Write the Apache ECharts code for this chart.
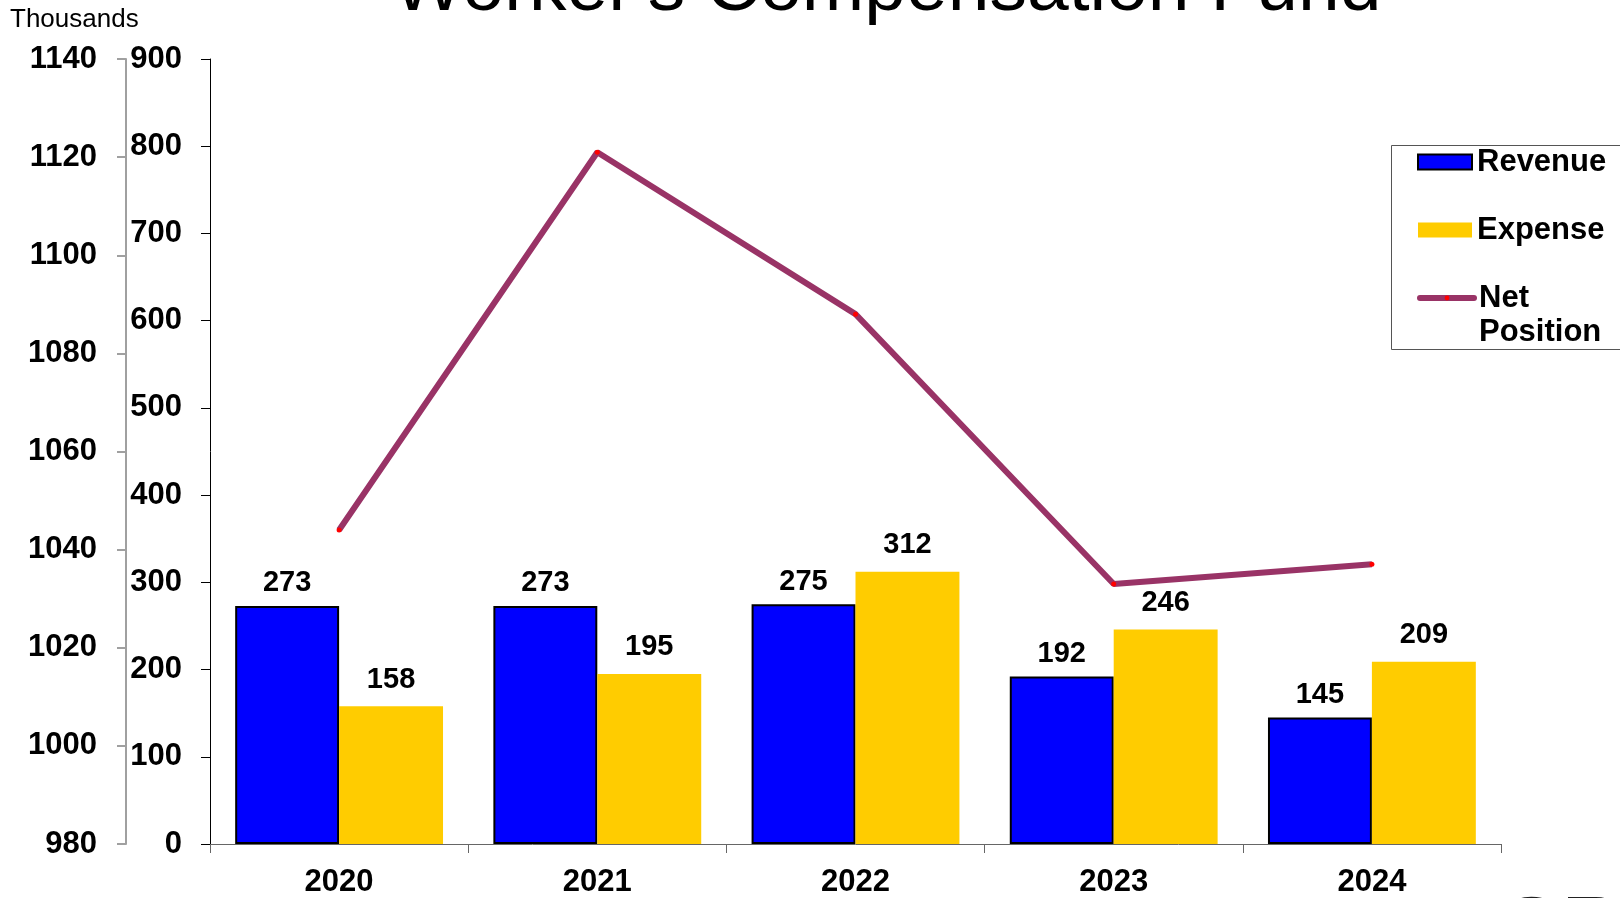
<!DOCTYPE html>
<html>
<head>
<meta charset="utf-8">
<title>Worker's Compensation Fund</title>
<script src="https://cdn.jsdelivr.net/npm/echarts@6/dist/echarts.min.js"></script>
<style>
  html, body { margin: 0; padding: 0; background: #fff; }
  #chart { width: 1620px; height: 898px; }
</style>
</head>
<body>
<div id="chart"></div>
<script>
const years = ['2020', '2021', '2022', '2023', '2024']
const revenue = [273, 273, 275, 192, 145]
const expense = [158, 195, 312, 246, 209]
// net position, in thousands, read against the outer left axis
const netPosition = [1044, 1121, 1088, 1033, 1037]

const FONT = 'Liberation Sans, Arial, sans-serif'
const plain = (v) => String(v)

const chart = echarts.init(document.getElementById('chart'), null, { renderer: 'canvas' })

chart.setOption({
  animation: false,
  backgroundColor: '#fff',
  title: [
    {
      text: "Worker's Compensation Fund",
      left: 393,
      top: -48,
      padding: 0,
      textStyle: { fontFamily: FONT, fontSize: 75, fontWeight: 'normal', color: '#000' }
    },
    {
      text: 'Thousands',
      left: 10,
      top: 7,
      padding: 0,
      textStyle: { fontFamily: FONT, fontSize: 26, fontWeight: 'normal', color: '#000' }
    }
  ],
  legend: [
    {
      orient: 'vertical',
      left: 1417,
      top: 146.5,
      padding: 0,
      icon: 'rect',
      itemWidth: 54,
      itemHeight: 15,
      itemGap: 37,
      data: ['Revenue', 'Expense'],
      textStyle: { fontFamily: FONT, fontSize: 31, fontWeight: 'bold', color: '#000' }
    },
    {
      orient: 'vertical',
      left: 1417,
      top: 247,
      padding: 0,
      itemWidth: 54,
      itemHeight: 6,
      data: ['Net Position'],
      // blank first line keeps "Net" level with the icon
      formatter: () => '\nNet\nPosition',
      lineStyle: { width: 6, cap: 'round' },
      textStyle: {
        fontFamily: FONT,
        fontSize: 31,
        fontWeight: 'bold',
        color: '#000',
        lineHeight: 34
      }
    }
  ],
  graphic: [
    {
      type: 'rect',
      z: -1,
      shape: { x: 1391.5, y: 145.5, width: 260, height: 204 },
      style: { fill: 'none', stroke: '#555', lineWidth: 1 }
    },
    {
      type: 'text',
      left: 1497,
      top: 890,
      style: { text: 'CP', fontFamily: FONT, fontSize: 90, fontWeight: 'bold', fill: '#222' }
    }
  ],
  grid: { left: 210, right: 119, top: 59, bottom: 53 },
  xAxis: {
    type: 'category',
    data: years,
    axisLine: { lineStyle: { color: '#666', width: 1 } },
    axisTick: { show: true, length: 9, lineStyle: { color: '#666' } },
    axisLabel: {
      margin: 23,
      fontFamily: FONT,
      fontSize: 31,
      fontWeight: 'bold',
      color: '#000'
    }
  },
  yAxis: [
    {
      type: 'value',
      position: 'left',
      min: 0,
      max: 900,
      interval: 100,
      axisLine: { show: true, lineStyle: { color: '#000', width: 1 } },
      axisTick: { show: true, length: 9, lineStyle: { color: '#000' } },
      splitLine: { show: false },
      axisLabel: {
        margin: 28,
        formatter: plain,
        fontFamily: FONT,
        fontSize: 31,
        fontWeight: 'bold',
        color: '#000'
      }
    },
    {
      type: 'value',
      position: 'left',
      offset: 84,
      min: 980,
      max: 1140,
      interval: 20,
      axisLine: { show: true, lineStyle: { color: '#a0a0a0', width: 2 } },
      axisTick: { show: true, length: 9, lineStyle: { color: '#a0a0a0', width: 2 } },
      splitLine: { show: false },
      axisLabel: {
        margin: 29,
        formatter: plain,
        fontFamily: FONT,
        fontSize: 31,
        fontWeight: 'bold',
        color: '#000'
      }
    }
  ],
  series: [
    {
      name: 'Revenue',
      type: 'bar',
      data: revenue,
      yAxisIndex: 0,
      barGap: '0%',
      barCategoryGap: '19.5%',
      itemStyle: { color: '#0000ff', borderColor: '#000', borderWidth: 2 },
      label: {
        show: true,
        position: 'top',
        distance: 8,
        fontFamily: FONT,
        fontSize: 29,
        fontWeight: 'bold',
        color: '#000'
      }
    },
    {
      name: 'Expense',
      type: 'bar',
      data: expense,
      yAxisIndex: 0,
      itemStyle: { color: '#ffcc00' },
      label: {
        show: true,
        position: 'top',
        distance: 12,
        fontFamily: FONT,
        fontSize: 29,
        fontWeight: 'bold',
        color: '#000'
      }
    },
    {
      name: 'Net Position',
      type: 'line',
      data: netPosition,
      yAxisIndex: 1,
      symbol: 'circle',
      symbolSize: 5,
      itemStyle: { color: '#ff0000' },
      lineStyle: { color: '#993366', width: 6 },
      z: 5
    }
  ]
})
</script>
</body>
</html>
